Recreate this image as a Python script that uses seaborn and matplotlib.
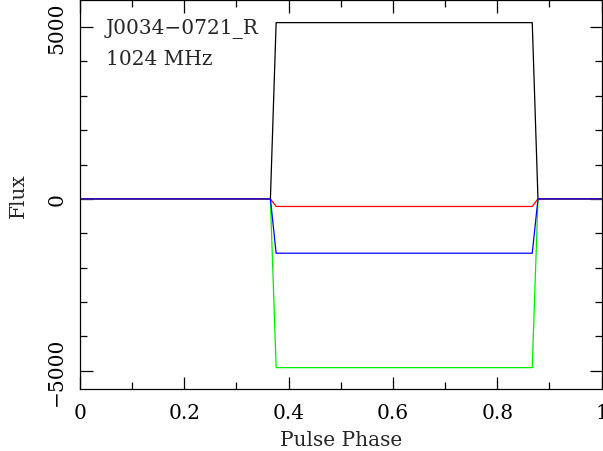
import matplotlib
matplotlib.use("Agg")
import matplotlib.pyplot as plt
import seaborn as sns
import pandas as pd
from matplotlib.ticker import MultipleLocator

# key vertices of each profile (pulse phase, flux)
phase = [0.0, 0.365, 0.376, 0.867, 0.878, 1.0]
stokes_I = [0, 0, 5130, 5130, 0, 0]
stokes_Q = [0, 0, -220, -220, 0, 0]
stokes_U = [0, 0, -1580, -1580, 0, 0]
stokes_V = [0, 0, -4910, -4910, 0, 0]

series = {"I": stokes_I, "V": stokes_V, "Q": stokes_Q, "U": stokes_U}
colors = {"I": "#000000", "Q": "#ff0000", "U": "#0000ff", "V": "#00ee00"}

rows = []
for name, vals in series.items():
    for p, v in zip(phase, vals):
        rows.append({"phase": p, "flux": v, "stokes": name})
df = pd.DataFrame(rows)

sns.set_style("ticks")
plt.rcParams["font.family"] = ["DejaVu Serif"]

fig = plt.figure(figsize=(6.03, 4.52), dpi=100)
ax = fig.add_axes([0.1327, 0.137, 0.865, 0.860])

sns.lineplot(data=df, x="phase", y="flux", hue="stokes", palette=colors,
             hue_order=list(series.keys()), estimator=None, sort=False,
             linewidth=0.9, legend=False, ax=ax)

ax.set_xlim(0, 1)
ax.set_ylim(-5534, 5778)
ax.xaxis.set_major_locator(MultipleLocator(0.2))
ax.xaxis.set_minor_locator(MultipleLocator(0.1))
ax.yaxis.set_major_locator(MultipleLocator(5000))
ax.yaxis.set_minor_locator(MultipleLocator(1000))
ax.set_xticks([0, 0.2, 0.4, 0.6, 0.8, 1.0])
ax.set_xticklabels(["0", "0.2", "0.4", "0.6", "0.8", "1"])
ax.set_yticks([-5000, 0, 5000])
ax.set_yticklabels(["\u22125000", "0", "5000"], rotation=90, va="center")

ax.tick_params(which="both", direction="in", top=True, right=True,
               labelsize=14.5, width=0.9, colors="black")
ax.tick_params(axis="x", which="major", length=9, pad=10)
ax.tick_params(axis="y", which="major", length=9, pad=10)
ax.tick_params(which="minor", length=5)
for s in ax.spines.values():
    s.set_linewidth(0.9)
    s.set_color("black")

ax.set_xlabel("Pulse Phase", fontsize=14.5, labelpad=6)
ax.set_ylabel("Flux", fontsize=14.5, labelpad=14)

ax.text(0.05, 0.955, "J0034\u22120721_R", transform=ax.transAxes,
        fontsize=14.5, va="top", ha="left")
ax.text(0.05, 0.875, "1024 MHz", transform=ax.transAxes,
        fontsize=14.5, va="top", ha="left")

fig.savefig("out.png", dpi=100)
